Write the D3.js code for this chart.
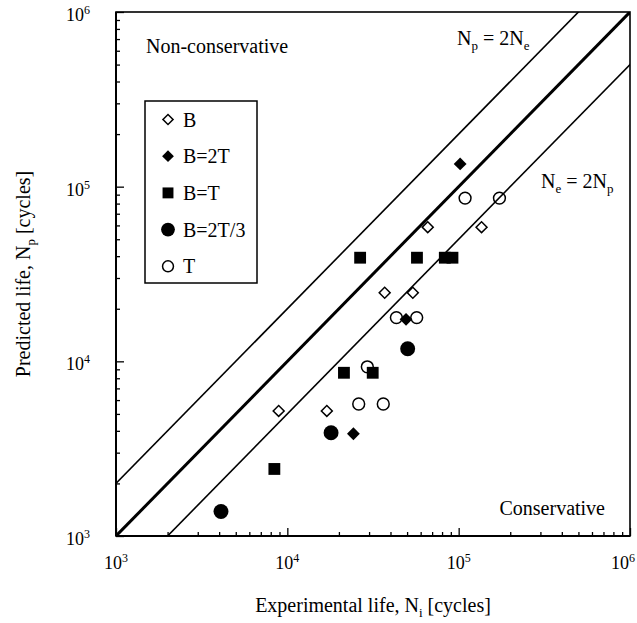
<!DOCTYPE html>
<html>
<head>
<meta charset="utf-8">
<script src="https://cdn.jsdelivr.net/npm/d3@7"></script>
<style>
  body { margin: 0; background: #fff; }
  svg { font-family: "Liberation Serif", "Times New Roman", serif; }
</style>
</head>
<body>
<div id="chart"></div>
<script>
// [experimental life, predicted life] per series
var seriesB      = [[8.9e3, 5.2e3], [1.7e4, 5.2e3], [3.7e4, 2.47e4], [5.4e4, 2.47e4], [6.6e4, 5.86e4], [1.36e5, 5.86e4]];
var seriesB2T    = [[2.43e4, 3.85e3], [4.93e4, 1.74e4], [1.02e5, 1.35e5]];
var seriesBT     = [[8.4e3, 2.42e3], [2.14e4, 8.6e3], [3.15e4, 8.6e3], [2.66e4, 3.92e4], [5.71e4, 3.92e4], [8.3e4, 3.92e4], [9.2e4, 3.92e4]];
var seriesB2T3   = [[4.1e3, 1.38e3], [1.8e4, 3.9e3], [5.04e4, 1.18e4]];
var seriesT      = [[2.61e4, 5.7e3], [3.63e4, 5.7e3], [2.93e4, 9.3e3], [4.33e4, 1.78e4], [5.69e4, 1.78e4], [1.09e5, 8.6e4], [1.73e5, 8.6e4]];

var legendNames = ["B", "B=2T", "B=T", "B=2T/3", "T"];
var majorExps = [3, 4, 5, 6];
var bandRatios = [2, 1, 0.5];   // Np = 2Ne, Np = Ne, Ne = 2Np

var margin = {top: 12, right: 7, bottom: 87, left: 116},
    width = 637 - margin.left - margin.right,
    height = 623 - margin.top - margin.bottom;

var x = d3.scaleLog().domain([1e3, 1e6]).range([0, width]);
var y = d3.scaleLog().domain([1e3, 1e6]).range([height, 0]);

var svg = d3.select("#chart").append("svg")
    .attr("width", 637)
    .attr("height", 623)
  .append("g")
    .attr("transform", "translate(" + margin.left + "," + margin.top + ")");

svg.append("clipPath").attr("id", "clip")
  .append("rect").attr("width", width).attr("height", height);

var majors = majorExps.map(function(e) { return Math.pow(10, e); });
var minors = [];
for (var e = 3; e < 6; e++) {
  for (var k = 2; k <= 9; k++) minors.push(k * Math.pow(10, e));
}

// ticks (pointing inward)
function tickGroup(axis, vals, size, tr) {
  var g = svg.append("g").attr("transform", tr)
      .call(axis.tickValues(vals).tickSize(-size).tickSizeOuter(0).tickFormat(""));
  g.select(".domain").remove();
  g.selectAll(".tick line").attr("stroke", "#000").attr("stroke-width", 1.3);
  return g;
}
tickGroup(d3.axisBottom(x), minors, 4, "translate(0," + height + ")");
tickGroup(d3.axisBottom(x), majors, 8, "translate(0," + height + ")");
tickGroup(d3.axisLeft(y), minors, 4, null);
tickGroup(d3.axisLeft(y), majors, 8, null);

// tick labels with superscripts
majorExps.forEach(function(e) {
  var v = Math.pow(10, e);
  var tx = svg.append("text")
      .attr("x", x(v)).attr("y", height + 33)
      .attr("text-anchor", "middle").attr("font-size", 18);
  tx.append("tspan").text("10");
  tx.append("tspan").attr("font-size", 12).attr("dy", -7).text(e);
  // keep the last label inside the page
  var w = tx.node().getComputedTextLength();
  if (x(v) + w / 2 > width + 5) {
    tx.attr("text-anchor", "end").attr("x", width + 5);
  }

  var ty = svg.append("text")
      .attr("x", -26).attr("y", y(v) + 9)
      .attr("text-anchor", "end").attr("font-size", 18);
  ty.append("tspan").text("10");
  ty.append("tspan").attr("font-size", 12).attr("dy", -7).text(e);
});

// frame
svg.append("rect")
    .attr("width", width).attr("height", height)
    .attr("fill", "none").attr("stroke", "#000").attr("stroke-width", 1.6);
svg.append("line").attr("x1", 0).attr("x2", width).attr("y1", height).attr("y2", height)
    .attr("stroke", "#000").attr("stroke-width", 2);
svg.append("line").attr("x1", 0).attr("x2", 0).attr("y1", 0).attr("y2", height)
    .attr("stroke", "#000").attr("stroke-width", 2);

// Np = 2Ne, 1:1, Ne = 2Np lines
var band = d3.line()
    .x(function(d) { return x(d[0]); })
    .y(function(d) { return y(d[1]); });

svg.append("g").attr("clip-path", "url(#clip)")
  .selectAll("path")
  .data(bandRatios)
  .enter().append("path")
    .attr("d", function(r) { return band([[1e2, 1e2 * r], [1e7, 1e7 * r]]); })
    .attr("fill", "none")
    .attr("stroke", "#000")
    .attr("stroke-width", function(r) { return r === 1 ? 3 : 1.6; });

// markers
var diamondOpen  = {type: d3.symbolSquare, size: 60, fill: "#fff", stroke: 1.5, rot: 45};
var diamondFill  = {type: d3.symbolSquare, size: 82, fill: "#000", stroke: 0, rot: 45};
var squareFill   = {type: d3.symbolSquare, size: 140, fill: "#000", stroke: 0, rot: 0};
var circleFill   = {type: d3.symbolCircle, size: 175, fill: "#000", stroke: 0, rot: 0};
var circleOpen   = {type: d3.symbolCircle, size: 110, fill: "none", stroke: 1.5, rot: 0};

var series = [
  {data: seriesT, m: circleOpen},
  {data: seriesB, m: diamondOpen},
  {data: seriesB2T3, m: circleFill},
  {data: seriesBT, m: squareFill},
  {data: seriesB2T, m: diamondFill}
];

function drawMarker(sel, m) {
  sel.attr("d", d3.symbol().type(m.type).size(m.size))
     .attr("fill", m.fill)
     .attr("stroke", m.stroke ? "#000" : "none")
     .attr("stroke-width", m.stroke);
}

series.forEach(function(s) {
  svg.append("g").selectAll("path")
    .data(s.data)
    .enter().append("path")
      .attr("transform", function(d) {
        return "translate(" + x(d[0]) + "," + y(d[1]) + ") rotate(" + s.m.rot + ")";
      })
      .call(drawMarker, s.m);
});

// legend
var legendMarkers = [diamondOpen, diamondFill, squareFill, circleFill, circleOpen];
var legend = svg.append("g").attr("transform", "translate(29,89)");
legend.append("rect")
    .attr("width", 112).attr("height", 182)
    .attr("fill", "#fff").attr("stroke", "#000").attr("stroke-width", 1.5);
legendNames.forEach(function(name, i) {
  var row = legend.append("g").attr("transform", "translate(0," + (18.5 + i * 36.7) + ")");
  var lm = legendMarkers[i];
  row.append("path")
      .attr("transform", "translate(23,0) rotate(" + lm.rot + ")")
      .call(drawMarker, {type: lm.type, size: lm.size * 0.85, fill: lm.fill, stroke: lm.stroke});
  row.append("text")
      .attr("x", 38).attr("y", 7)
      .attr("font-size", 20)
      .text(name);
});

// region labels
svg.append("text").attr("x", 30).attr("y", 41).attr("font-size", 20).text("Non-conservative");
svg.append("text").attr("x", width - 25).attr("y", 503).attr("font-size", 20)
    .attr("text-anchor", "end").text("Conservative");

function subLabel(px, py, parts) {
  var t = svg.append("text").attr("x", px).attr("y", py).attr("font-size", 20);
  parts.forEach(function(p) {
    var ts = t.append("tspan").text(p[0]);
    if (p[1] === "sub") ts.attr("font-size", 13).attr("dy", 5);
    if (p[1] === "up") ts.attr("dy", -5);
  });
  return t;
}
subLabel(341, 33, [["N"], ["p", "sub"], [" = 2N", "up"], ["e", "sub"]]);
subLabel(425, 176, [["N"], ["e", "sub"], [" = 2N", "up"], ["p", "sub"]]);

// axis titles
var xt = svg.append("text")
    .attr("x", width / 2).attr("y", height + 76)
    .attr("text-anchor", "middle").attr("font-size", 20);
xt.append("tspan").text("Experimental life, N");
xt.append("tspan").attr("font-size", 13).attr("dy", 5).text("i");
xt.append("tspan").attr("dy", -5).text(" [cycles]");

var yt = svg.append("text")
    .attr("transform", "translate(-86," + (height / 2) + ") rotate(-90)")
    .attr("text-anchor", "middle").attr("font-size", 20);
yt.append("tspan").text("Predicted life, N");
yt.append("tspan").attr("font-size", 13).attr("dy", 5).text("p");
yt.append("tspan").attr("dy", -5).text(" [cycles]");
</script>
</body>
</html>
